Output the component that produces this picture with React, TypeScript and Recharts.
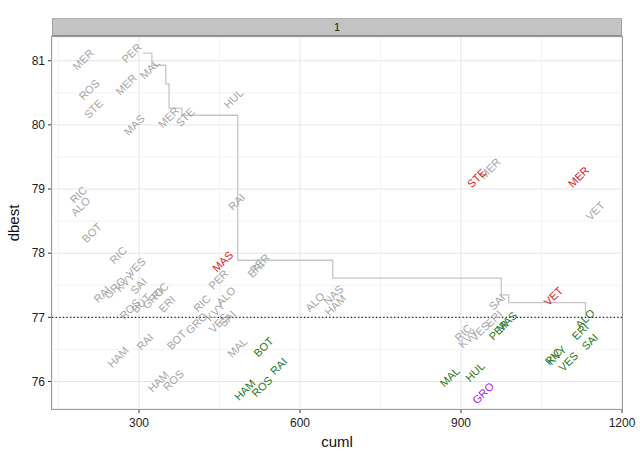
import React from 'react';
import { ComposedChart, CartesianGrid, Line, ReferenceLine, Scatter, XAxis, YAxis } from 'recharts';

// step line (cuml, dbest)
const stepX = [307, 324, 350, 356, 380, 484, 661, 975, 989, 1132];
const stepY = [81.12, 80.93, 80.64, 80.26, 80.15, 77.89, 77.61, 77.35, 77.23, 77.01];

const greyNames = [
  'MER', 'PER', 'MAL', 'ROS', 'MER', 'STE', 'MAS', 'MER', 'STE', 'HUL',
  'RIC', 'ALO', 'BOT', 'RAI', 'RIC', 'RAI', 'GRO', 'KVY', 'VES', 'SAI',
  'ROS', 'BUT', 'GRO', 'RIC', 'ERI', 'PER', 'PER', 'ERI', 'RIC', 'ALO',
  'GRO', 'KVY', 'VES', 'SAI', 'BOT', 'MAL', 'HAM', 'RAI', 'HAM', 'ROS',
  'ALO', 'NAS', 'HAM', 'MER', 'VET', 'SAI', 'ERI', 'RIC', 'KVY', 'VES',
];
const greyX = [
  196, 286, 320, 207, 276, 215, 291, 355, 386, 476,
  187, 191, 212, 482, 261, 231, 255, 274, 294, 299,
  283, 304, 326, 339, 352, 448, 525, 518, 417, 462,
  407, 442, 448, 465, 370, 483, 261, 311, 336, 364,
  628, 662, 666, 954, 1150, 967, 961, 904, 913, 935,
];
const greyY = [
  81.02, 81.12, 80.87, 80.55, 80.63, 80.25, 80.0, 80.12, 80.12, 80.41,
  78.91, 78.73, 78.32, 78.8, 77.97, 77.36, 77.46, 77.55, 77.78, 77.49,
  77.13, 77.22, 77.3, 77.41, 77.21, 77.59, 77.84, 77.75, 77.22, 77.33,
  76.91, 77.09, 76.91, 76.98, 76.65, 76.53, 76.38, 76.62, 76.0, 76.02,
  77.24, 77.35, 77.19, 79.32, 78.66, 77.24, 76.98, 76.76, 76.67, 76.78,
];

const redNames = ['MAS', 'STE', 'MER', 'VET'];
const redX = [456, 929, 1119, 1072];
const redY = [77.87, 79.17, 79.19, 77.33];

const greenNames = ['BOT', 'RAI', 'HAM', 'ROS', 'PER', 'MAS', 'ALO', 'ERI', 'SAI', 'RIC', 'KVY', 'VES', 'MAL', 'HUL'];
const greenX = [532, 560, 497, 529, 970, 985, 1131, 1122, 1140, 1072, 1078, 1100, 879, 926];
const greenY = [76.54, 76.24, 75.87, 75.92, 76.8, 76.93, 76.98, 76.78, 76.62, 76.39, 76.41, 76.31, 76.07, 76.15];

const purpleNames = ['GRO'];
const purpleX = [941];
const purpleY = [75.82];

const xTicks = [300, 600, 900, 1200];
const yTicks = [76, 77, 78, 79, 80, 81];
const xMinor = [150, 450, 750, 1050];
const yMinor = [76.5, 77.5, 78.5, 79.5, 80.5];

const toPoints = (names: string[], xs: number[], ys: number[]) =>
  names.map((name, i) => ({ name, x: xs[i], y: ys[i] }));

const stepData = stepX.map((x, i) => ({ x, y: stepY[i] }));
const FONT = '"Liberation Sans", Arial, Helvetica, sans-serif';

const labelShape = (color: string) => (props: any) => {
  const { cx, cy, payload } = props;
  return (
    <text
      x={cx}
      y={cy}
      fill={color}
      fontSize={11}
      fontFamily={FONT}
      textAnchor="middle"
      dominantBaseline="central"
      transform={`rotate(-45 ${cx} ${cy})`}
    >
      {payload.name}
    </text>
  );
};

export default function App() {
  return (
    <div style={{ position: 'absolute', left: 0, top: 0, width: 640, height: 457, fontFamily: FONT }}>
      <ComposedChart width={640} height={457} margin={{ top: 37, right: 18, bottom: 0, left: 0 }}>
        <CartesianGrid stroke="#e5e5e5" />
        {xMinor.map((v) => (
          <ReferenceLine key={'mx' + v} x={v} stroke="#f3f3f3" />
        ))}
        {yMinor.map((v) => (
          <ReferenceLine key={'my' + v} y={v} stroke="#f3f3f3" />
        ))}
        <XAxis
          type="number"
          dataKey="x"
          domain={[137.9, 1200]}
          allowDataOverflow
          ticks={xTicks}
          height={48}
          axisLine={false}
          tickSize={4}
          tickMargin={5}
          tickLine={{ stroke: '#333' }}
          tick={{ fill: '#1e1e1e', fontSize: 12, fontFamily: FONT }}
          label={{ value: 'cuml', position: 'insideBottom', offset: 10, fill: '#111', fontSize: 15, fontFamily: FONT }}
        />
        <YAxis
          type="number"
          dataKey="y"
          domain={[75.571, 81.37]}
          allowDataOverflow
          ticks={yTicks}
          width={52}
          axisLine={false}
          tickSize={4}
          tickMargin={3}
          tickLine={{ stroke: '#333' }}
          tick={{ fill: '#1e1e1e', fontSize: 12, fontFamily: FONT }}
          label={{
            value: 'dbest',
            angle: -90,
            position: 'insideLeft',
            offset: 14,
            fill: '#111',
            fontSize: 15,
            fontFamily: FONT,
            style: { textAnchor: 'middle' },
          }}
        />
        <ReferenceLine y={77} stroke="#222" strokeDasharray="1.3 2.3" strokeWidth={1.3} />
        <Line
          data={stepData}
          dataKey="y"
          type="stepAfter"
          stroke="#c6c6c6"
          strokeWidth={1.3}
          dot={false}
          activeDot={false}
          isAnimationActive={false}
        />
        <Scatter data={toPoints(greyNames, greyX, greyY)} shape={labelShape('#a6a6a6')} isAnimationActive={false} />
        <Scatter data={toPoints(redNames, redX, redY)} shape={labelShape('#dd1a1a')} isAnimationActive={false} />
        <Scatter data={toPoints(greenNames, greenX, greenY)} shape={labelShape('#237a23')} isAnimationActive={false} />
        <Scatter data={toPoints(purpleNames, purpleX, purpleY)} shape={labelShape('#a020f0')} isAnimationActive={false} />
      </ComposedChart>
      {/* facet strip and panel border */}
      <div
        style={{
          position: 'absolute',
          left: 52,
          top: 18,
          width: 570,
          height: 18,
          background: '#c3c3c3',
          borderTop: '1px solid #b0b0b0',
          borderLeft: '1px solid #a0a0a0',
          borderRight: '1px solid #a0a0a0',
          borderBottom: '1px solid #8a8a8a',
          boxSizing: 'border-box',
          textAlign: 'center',
          fontSize: 11,
          lineHeight: '17px',
          color: '#1a1a1a',
        }}
      >
        1
      </div>
      <div
        style={{
          position: 'absolute',
          left: 51,
          top: 36,
          width: 572,
          height: 374,
          border: '1px solid #9a9a9a',
          boxSizing: 'border-box',
          pointerEvents: 'none',
        }}
      />
    </div>
  );
}
